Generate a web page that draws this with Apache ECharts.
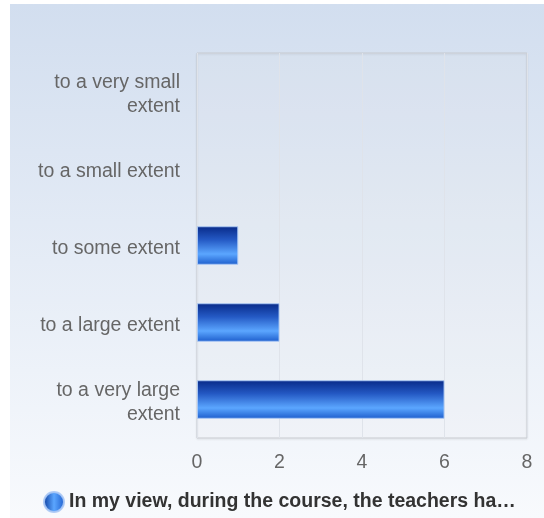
<!DOCTYPE html>
<html><head><meta charset="utf-8">
<script src="https://cdn.jsdelivr.net/npm/echarts@6/dist/echarts.min.js"></script>
<style>
html,body{margin:0;padding:0;background:#fff;}
#c{position:absolute;left:10px;top:4px;width:534px;height:514px;}
</style></head>
<body><div id="c"></div>
<script>
const categories = ["to a very large extent","to a large extent","to some extent","to a small extent","to a very small extent"];
const values = [6, 2, 1, 0, 0];
const seriesName = "In my view, during the course, the teachers ha…";
const xTicks = [0, 2, 4, 6, 8];

const labelFont = '19.5px "Liberation Sans", Arial';
const ctx = document.createElement('canvas').getContext('2d');
ctx.font = labelFont;
function wrap(text, maxW) {
  const words = text.split(' ');
  const lines = [];
  let cur = '';
  for (const w of words) {
    const t = cur ? cur + ' ' + w : w;
    if (cur && ctx.measureText(t).width > maxW) { lines.push(cur); cur = w; }
    else cur = t;
  }
  if (cur) lines.push(cur);
  return lines.join('\n');
}

const chart = echarts.init(document.getElementById('c'));
const barGrad = new echarts.graphic.LinearGradient(0,0,0,1,[
  {offset:0,color:'#082a88'},
  {offset:0.35,color:'#2459c4'},
  {offset:0.72,color:'#5ba6ff'},
  {offset:1,color:'#1d5dcc'}
]);
chart.setOption({
  backgroundColor: new echarts.graphic.LinearGradient(0,0,0,1,[
    {offset:0,color:'#d2deef'},
    {offset:1,color:'#f8fafd'}
  ]),
  animation:false,
  grid:{left:187,top:49,right:17,bottom:80,show:true,borderColor:'#c9ccd2',borderWidth:1,
        backgroundColor:'rgba(255,255,255,0.12)',shadowColor:'rgba(0,0,0,0.12)',shadowBlur:2,shadowOffsetY:1},
  xAxis:{type:'value',min:xTicks[0],max:xTicks[xTicks.length-1],interval:2,
    axisLine:{show:false},axisTick:{show:false},
    splitLine:{show:true,lineStyle:{color:'#dfe3ea',width:1}},
    axisLabel:{color:'#666',fontSize:19.5,fontFamily:'Liberation Sans, Arial',margin:15}},
  yAxis:{type:'category',data:categories,
    axisLine:{show:false},axisTick:{show:false},splitLine:{show:false},
    axisLabel:{color:'#666',fontSize:19.5,fontFamily:'Liberation Sans, Arial',margin:17,
      lineHeight:24,align:'right',
      formatter: v => '{s| }\n' + wrap(v, 150),
      rich:{s:{lineHeight:7,height:7,fontSize:4}}}},
  legend:{bottom:0,left:28,itemWidth:20,itemHeight:20,icon:'circle',itemGap:10,
    textStyle:{color:'#333',fontSize:19.5,fontWeight:'bold',fontFamily:'Liberation Sans, Arial'},
    data:[{name:seriesName,itemStyle:{color:new echarts.graphic.LinearGradient(0,0,1,0,[
      {offset:0,color:'#0a3a9c'},{offset:0.5,color:'#5ba6ff'},{offset:1,color:'#1d5dcc'}])}}]},
  series:[{type:'bar',name:seriesName,
    data:values.map(v => v === 0 ? {value:v,itemStyle:{borderWidth:0}} : v),
    barWidth:'50%',
    itemStyle:{color:barGrad,borderColor:'rgba(170,200,245,0.9)',borderWidth:1}}]
});
</script></body></html>
